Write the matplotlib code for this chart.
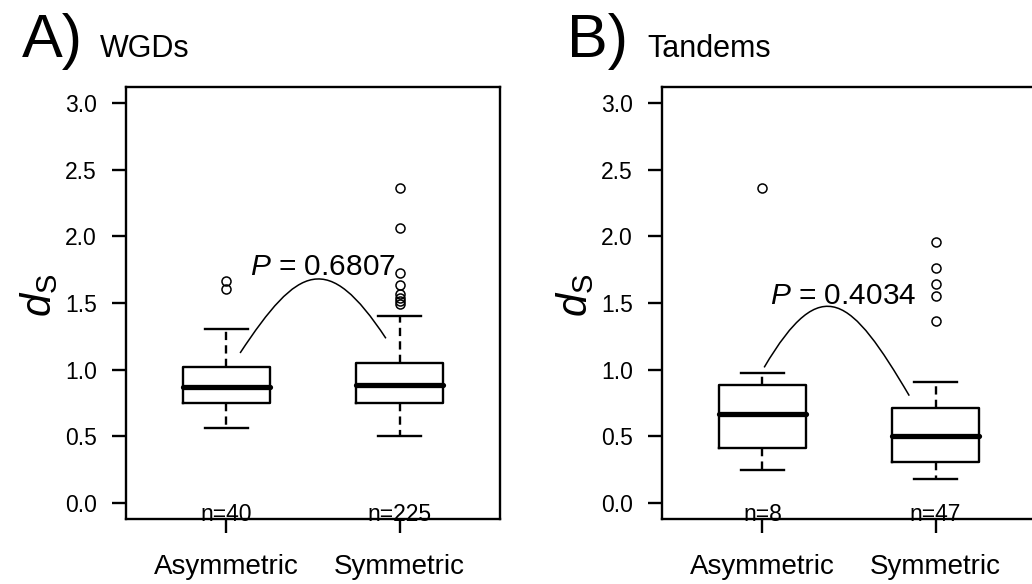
import numpy as np
import matplotlib.pyplot as plt
from matplotlib.path import Path
from matplotlib.patches import PathPatch

plt.rcParams['font.family'] = ['Liberation Sans', 'DejaVu Sans']
plt.rcParams['mathtext.fontset'] = 'custom'
plt.rcParams['mathtext.rm'] = 'Liberation Sans'
plt.rcParams['mathtext.it'] = 'Liberation Sans:italic'

# ---- data ----
categories = ['Asymmetric', 'Symmetric']
panel_tags = ['A)', 'B)']
panel_titles = ['WGDs', 'Tandems']
y_ticks = [0.0, 0.5, 1.0, 1.5, 2.0, 2.5, 3.0]

# WGDs
wgd_med = [0.872, 0.887]
wgd_q1 = [0.747, 0.747]
wgd_q3 = [1.022, 1.053]
wgd_lo = [0.559, 0.504]
wgd_hi = [1.306, 1.406]
wgd_out_asym = [1.664, 1.606]
wgd_out_sym = [2.366, 2.065, 1.724, 1.632, 1.569, 1.539, 1.515, 1.495]
wgd_n = [40, 225]
wgd_p = 0.6807

# Tandems
tan_med = [0.667, 0.504]
tan_q1 = [0.411, 0.311]
tan_q3 = [0.885, 0.709]
tan_lo = [0.246, 0.178]
tan_hi = [0.972, 0.905]
tan_out_asym = [2.363]
tan_out_sym = [1.955, 1.764, 1.641, 1.549, 1.368]
tan_n = [8, 47]
tan_p = 0.4034

W, H = 1032, 584
LW = 1.7
fig = plt.figure(figsize=(W / 100, H / 100), dpi=100)

def px_axes(left, top, right, bottom):
    return fig.add_axes([left / W, 1 - bottom / H, (right - left) / W, (bottom - top) / H])

def draw_panel(ax, med, q1, q3, lo, hi, outs, ns, p, curve, ptext):
    stats = []
    for i in range(len(med)):
        stats.append(dict(med=med[i], q1=q1[i], q3=q3[i],
                          whislo=lo[i], whishi=hi[i], fliers=outs[i]))
    ax.bxp(stats, positions=[1, 2], widths=0.5, capwidths=0.25,
           boxprops=dict(lw=LW, color='black'),
           medianprops=dict(lw=3.8, color='black', solid_capstyle='round'),
           whiskerprops=dict(lw=LW, color='black', linestyle=(0, (3.5, 2.2))),
           capprops=dict(lw=LW, color='black'),
           flierprops=dict(marker='o', markerfacecolor='none', markeredgecolor='black',
                           markersize=6.5, markeredgewidth=1.1))

    # connecting curve for the P value
    (x0, y0), (x3, y3), ypk = curve
    L = x3 - x0
    k = (ypk - 0.5 * (y0 + y3)) * 4 / 3
    verts = [(x0, y0), (x0 + 0.4 * L, y0 + k), (x3 - 0.4 * L, y3 + k), (x3, y3)]
    codes = [Path.MOVETO, Path.CURVE4, Path.CURVE4, Path.CURVE4]
    ax.add_patch(PathPatch(Path(verts, codes), fill=False, lw=1.1, edgecolor='black'))
    ax.text(ptext[0], ptext[1], r'$P$ = %.4f' % p, ha='center', va='baseline', fontsize=21.5)

    for i, n in enumerate(ns):
        ax.text(i + 1, -0.135, 'n=%d' % n, ha='center', va='baseline', fontsize=16.5)

    ax.set_xlim(0.42, 2.58)
    ax.set_ylim(-0.12, 3.12)
    ax.set_xticks([1, 2])
    ax.set_xticklabels(categories, fontsize=20)
    ax.set_yticks(y_ticks)
    ax.set_yticklabels(['%.1f' % t for t in y_ticks], fontsize=16.5)
    ax.tick_params(axis='x', length=10, width=LW, pad=15)
    ax.tick_params(axis='y', length=10, width=LW, pad=11)
    for s in ax.spines.values():
        s.set_linewidth(LW)
    ax.set_ylabel(r'$d_\mathrm{S}$', fontsize=30)
    ax.yaxis.set_label_coords(-0.176, 0.518)

axA = px_axes(126, 87, 500, 519)
draw_panel(axA, wgd_med, wgd_q1, wgd_q3, wgd_lo, wgd_hi,
           [wgd_out_asym, wgd_out_sym], wgd_n, wgd_p,
           ((1.079, 1.125), (1.921, 1.235), 1.677), (1.556, 1.707))

axB = px_axes(662, 87, 1036, 519)
draw_panel(axB, tan_med, tan_q1, tan_q3, tan_lo, tan_hi,
           [tan_out_asym, tan_out_sym], tan_n, tan_p,
           ((1.010, 1.017), (1.848, 0.805), 1.464), (1.468, 1.489))

# panel headings
fig.text(22 / W, 1 - 57 / H, panel_tags[0], fontsize=44, va='baseline')
fig.text(100 / W, 1 - 57 / H, panel_titles[0], fontsize=22, va='baseline')
fig.text(567 / W, 1 - 57 / H, panel_tags[1], fontsize=44, va='baseline')
fig.text(647 / W, 1 - 57 / H, panel_titles[1], fontsize=22, va='baseline')

fig.savefig('out.png', dpi=100)
